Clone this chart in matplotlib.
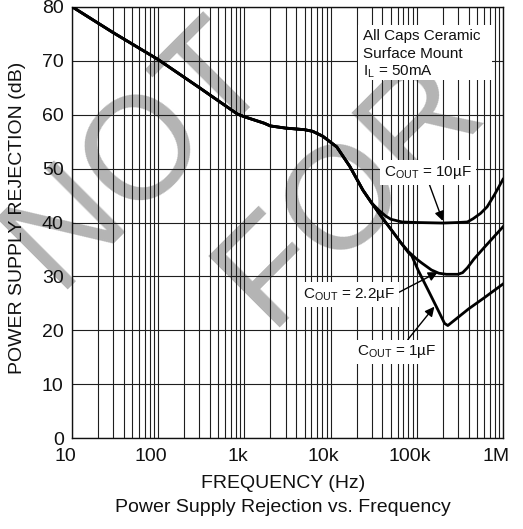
import matplotlib
matplotlib.use('Agg')
import matplotlib.pyplot as plt
import matplotlib.transforms as mtransforms
from matplotlib.patches import Rectangle
from matplotlib.ticker import FixedLocator, FixedFormatter, NullFormatter

plt.rcParams['font.family'] = ['Liberation Sans', 'DejaVu Sans']
plt.rcParams['mathtext.fontset'] = 'custom'
plt.rcParams['mathtext.rm'] = 'Liberation Sans'

# ---------------- data ----------------
freq_common = [10, 30, 100, 300, 830, 1000, 1700, 2000, 3000, 5000, 6200, 8100,
               11800, 16700, 23700, 30000]
psrr_common = [80.0, 75.2, 70.2, 65.0, 60.1, 59.6, 58.4, 57.9, 57.5, 57.2, 56.9, 56.0,
               54.0, 50.4, 46.0, 43.6]

freq_10u_tail = [36700, 43600, 50000, 67500, 100000, 200000, 300000, 386000,
                 450000, 550000, 654000, 800000, 1000000]
psrr_10u_tail = [42.2, 41.2, 40.6, 40.1, 40.0, 39.9, 40.0, 40.1,
                 40.7, 41.7, 42.9, 45.2, 48.0]

freq_2u2_tail = [40000, 52000, 65000, 80000, 100000, 114000, 148000, 180000, 220000,
                 300000, 340000, 386000, 459000, 600000, 800000, 1000000]
psrr_2u2_tail = [40.8, 38.4, 36.3, 34.6, 33.2, 32.5, 31.2, 30.6, 30.4,
                 30.4, 30.7, 31.6, 33.2, 35.3, 37.5, 39.2]

freq_1u_tail = [40000, 52000, 65000, 80000, 87600, 104000, 136000, 176000, 210000,
                229000, 400000, 600000, 1000000]
psrr_1u_tail = [40.8, 38.4, 36.3, 34.4, 33.8, 31.1, 27.4, 23.8, 21.3,
                20.9, 24.0, 26.0, 28.6]

series = {
    '10u': (freq_common + freq_10u_tail, psrr_common + psrr_10u_tail),
    '2u2': (freq_common + freq_2u2_tail, psrr_common + psrr_2u2_tail),
    '1u': (freq_common + freq_1u_tail, psrr_common + psrr_1u_tail),
}

x_major = [10, 100, 1e3, 1e4, 1e5, 1e6]
x_labels = ['10', '100', '1k', '10k', '100k', '1M']
y_ticks = [0, 10, 20, 30, 40, 50, 60, 70, 80]

# ---------------- figure ----------------
W, H = 523, 529
fig = plt.figure(figsize=(W / 100, H / 100), dpi=100)

def fx(px):
    return px / W

def fy(py):
    return 1 - py / H

ax = fig.add_axes([fx(72), fy(438.3), (503 - 72) / W, (438.3 - 6.7) / H])
ax.set_facecolor('none')

# watermark (behind the axes)
wm_kw = dict(fontsize=105, color='#b4b4b4', rotation=45, ha='center', va='center',
             zorder=-5, family='Liberation Sans')
fig.text(fx(138), fy(154), 'NOT', **wm_kw)
fig.text(fx(350), fy(192), 'FOR', **wm_kw)

ax.set_xscale('log')
ax.set_xlim(10, 1e6)
ax.set_ylim(0, 80)

minor = [m * 10 ** e for e in range(1, 6) for m in range(2, 10)]
ax.xaxis.set_major_locator(FixedLocator(x_major))
ax.xaxis.set_major_formatter(FixedFormatter(x_labels))
ax.xaxis.set_minor_locator(FixedLocator(minor))
ax.xaxis.set_minor_formatter(NullFormatter())
ax.set_yticks(y_ticks)

ax.grid(True, which='both', axis='x', color='#1e1e1e', lw=0.8)
ax.grid(True, which='major', axis='y', color='#1e1e1e', lw=0.8)
ax.set_axisbelow(True)
for s in ax.spines.values():
    s.set_color('#111111')
    s.set_linewidth(1.0)

ax.tick_params(which='both', length=0, labelsize=14, colors='#111111')
ax.tick_params(axis='x', pad=7)
ax.tick_params(axis='y', pad=6)

off = mtransforms.ScaledTranslation(-7 / 100, 0, fig.dpi_scale_trans)
for lab in ax.get_xticklabels():
    lab.set_transform(lab.get_transform() + off)

for key, (f, p) in series.items():
    ax.plot(f, p, color='black', lw=2.0, solid_joinstyle='round', zorder=3)

ax.set_xlabel('FREQUENCY (Hz)', fontsize=14, color='#111111')
ax.xaxis.label.set_va('baseline')
ax.xaxis.set_label_coords((283 - 72) / 431, (438.3 - 488) / 431.6)
ax.set_ylabel('POWER SUPPLY REJECTION (dB)', fontsize=14, color='#111111')
ax.yaxis.label.set_va('center')
ax.yaxis.set_label_coords((18 - 72) / 431, (438.3 - 218) / 431.6)

fig.text(fx(283), fy(511.7), 'Power Supply Rejection vs. Frequency', fontsize=14,
         ha='center', va='baseline', color='#111111')

# annotations
ann_kw = dict(fontsize=11, ha='center', va='center', zorder=6, color='#111111',
              bbox=dict(boxstyle='square,pad=0.25', fc='white', ec='none'))
arrow = dict(arrowstyle='-|>', color='black', lw=1.0, mutation_scale=14,
             shrinkA=0, shrinkB=0)

ax.annotate(r'$\mathregular{C_{OUT}}$ = 10µF', xy=(2.0e5, 40.3), xytext=(1.35e5, 49.3),
            arrowprops=dict(arrow, relpos=(0.5, 0.0)), **ann_kw)
ax.annotate(r'$\mathregular{C_{OUT}}$ = 2.2µF', xy=(1.75e5, 30.8), xytext=(1.64e4, 26.7),
            arrowprops=dict(arrow, relpos=(1.0, 0.5)), **ann_kw)
ax.annotate(r'$\mathregular{C_{OUT}}$ = 1µF', xy=(1.6e5, 24.4), xytext=(5.85e4, 16.0),
            arrowprops=dict(arrow, relpos=(0.6, 1.0)), **ann_kw)

# conditions box
fig.patches.append(Rectangle((fx(358), fy(80)), (492 - 358) / W, (80 - 25) / H,
                             transform=fig.transFigure, fc='white', ec='none', zorder=4))
cond_lines = ['All Caps Ceramic', 'Surface Mount', r'I$_\mathregular{L}$ = 50mA']
for i, t in enumerate(cond_lines):
    fig.text(fx(363), fy(40 + 17.5 * i), t, fontsize=11, ha='left', va='baseline',
             color='#111111', zorder=5)

fig.savefig('out.png', dpi=100)
